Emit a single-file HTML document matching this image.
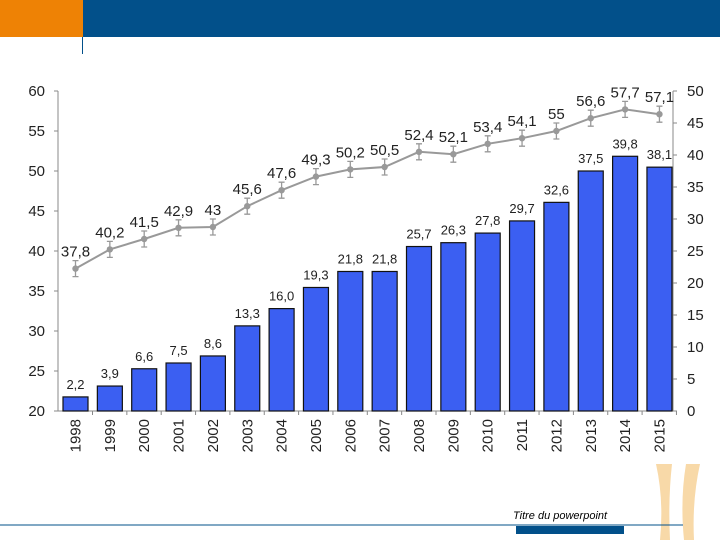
<!DOCTYPE html>
<html><head><meta charset="utf-8"><style>
body{margin:0;width:720px;height:540px;background:#fff;overflow:hidden;position:relative;font-family:"Liberation Sans",sans-serif}
.a{position:absolute}
</style></head><body>
<div class="a" style="left:0;top:0;width:83px;height:37px;background:#ee8205"></div>
<div class="a" style="left:83px;top:0;width:637px;height:37px;background:#02508a"></div>
<div class="a" style="left:82px;top:37px;width:1px;height:17px;background:#02508a"></div>
<svg class="a" style="left:0;top:0" width="720" height="540">
<g id="g"></g>
<path d="M656 464 Q664 500 660 540 L670 540 Q668 500 672 464 Z" fill="#f8d9a8"/>
<path d="M686 464 Q680 500 684 540 L694 540 Q692 500 700 464 Z" fill="#f8d9a8"/>
<line x1="0" y1="525" x2="683" y2="525" stroke="#02508a" stroke-width="1"/>
<rect x="516" y="526" width="108" height="8" fill="#02508a"/>
<text x="513" y="519" font-size="11" font-style="italic" fill="#000">Titre du powerpoint</text>
</svg>
<script>
const years=['1998','1999','2000','2001','2002','2003','2004','2005','2006','2007','2008','2009','2010','2011','2012','2013','2014','2015'];
const barVals=[2.2,3.9,6.6,7.5,8.6,13.3,16.0,19.3,21.8,21.8,25.7,26.3,27.8,29.7,32.6,37.5,39.8,38.1];
const barLabels=['2,2','3,9','6,6','7,5','8,6','13,3','16,0','19,3','21,8','21,8','25,7','26,3','27,8','29,7','32,6','37,5','39,8','38,1'];
const lineVals=[37.8,40.2,41.5,42.9,43,45.6,47.6,49.3,50.2,50.5,52.4,52.1,53.4,54.1,55,56.6,57.7,57.1];
const lineLabels=['37,8','40,2','41,5','42,9','43','45,6','47,6','49,3','50,2','50,5','52,4','52,1','53,4','54,1','55','56,6','57,7','57,1'];
const leftTicks=[20,25,30,35,40,45,50,55,60];
const rightTicks=[0,5,10,15,20,25,30,35,40,45,50];
const NS='http://www.w3.org/2000/svg',g=document.getElementById('g');
const yL=v=>411-(v-20)*8, yR=v=>411-v*6.4, xC=i=>75.5+i*34.35;
function mk(t,a,txt){const e=document.createElementNS(NS,t);for(const k in a)e.setAttribute(k,a[k]);if(txt!=null)e.textContent=txt;g.appendChild(e);return e;}
let e;
e=mk('line',{x1:58,y1:91,x2:58,y2:411,stroke:'#888'});


e=mk('line',{x1:673,y1:91,x2:673,y2:411,stroke:'#888'});


e=mk('line',{x1:58,y1:411,x2:673,y2:411,stroke:'#888'});


leftTicks.forEach(v=>{mk('line',{x1:54,y1:yL(v),x2:58,y2:yL(v),stroke:'#888'});
e=mk('text',{x:45,y:yL(v)+5,'font-size':15,'text-anchor':'end',fill:'#222'},v);

});
rightTicks.forEach(v=>{mk('line',{x1:673,y1:yR(v),x2:677,y2:yR(v),stroke:'#888'});
e=mk('text',{x:687,y:yR(v)+5,'font-size':15,fill:'#222'},v);

});
years.forEach((y,i)=>{const x=xC(i);
mk('line',{x1:x+17,y1:411,x2:x+17,y2:415,stroke:'#888'});
e=mk('rect',{x:x-12.5,y:yR(barVals[i]),width:25,height:411-yR(barVals[i]),fill:'#3b5ff2',stroke:'#111','stroke-width':1.2});


e=mk('text',{x:x,y:yR(barVals[i])-8,'font-size':13,'text-anchor':'middle',fill:'#222'},barLabels[i]);


e=mk('text',{x:0,y:0,'font-size':15,'text-anchor':'end',fill:'#222',transform:`translate(${x+5},419) rotate(-90)`},y);

});
e=mk('polyline',{points:lineVals.map((v,i)=>xC(i)+','+yL(v)).join(' '),fill:'none',stroke:'#999','stroke-width':2});


lineVals.forEach((v,i)=>{const x=xC(i),y=yL(v);
mk('path',{d:`M${x-3} ${y-8}H${x+3}M${x} ${y-8}V${y+8}M${x-3} ${y+8}H${x+3}`,stroke:'#999','stroke-width':1.3,fill:'none'});
e=mk('circle',{cx:x,cy:y,r:3.2,fill:'#999'});


e=mk('text',{x:x,y:y-12,'font-size':15,'text-anchor':'middle',fill:'#222'},lineLabels[i]);

});
</script>
</body></html>
